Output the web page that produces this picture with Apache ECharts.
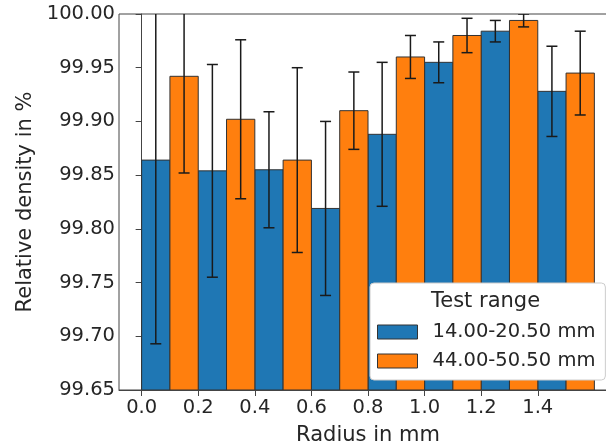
<!DOCTYPE html>
<html lang="en">
<head>
<meta charset="UTF-8">
<title>Relative density</title>
<style>html,body{margin:0;padding:0;background:#fff;}</style>
</head>
<body>
<div id="chart" style="width:606px;height:445px;"></div>
<script src="https://cdn.jsdelivr.net/npm/echarts@6/dist/echarts.min.js"></script>
<script>
// radius positions (left edge of each group)
var radius = [0.0, 0.2, 0.4, 0.6, 0.8, 1.0, 1.2, 1.4];
var seriesNames = ['14.00-20.50 mm', '44.00-50.50 mm'];
var density1 = [99.864, 99.854, 99.855, 99.819, 99.888, 99.955, 99.984, 99.928];
var error1 = [0.171, 0.099, 0.054, 0.081, 0.067, 0.019, 0.010, 0.042];
var density2 = [99.942, 99.902, 99.864, 99.910, 99.960, 99.980, 99.994, 99.945];
var error2 = [0.090, 0.074, 0.086, 0.036, 0.020, 0.016, 0.006, 0.039];
var xTicks = [0.0, 0.2, 0.4, 0.6, 0.8, 1.0, 1.2, 1.4];

var barWidth = 0.1;
var yMin = 99.65, yMax = 100.0;
var font = 'DejaVu Sans';
var textColor = '#262626';
var colors = ['#1f77b4', '#ff7f0e'];

function makeData(vals, errs, offset) {
    return radius.map(function (r, i) {
        return [r + offset, vals[i], errs[i]];
    });
}

// bar + error bar drawn through the axis scales
function renderBar(params, api) {
    var x0 = api.value(0), y = api.value(1), err = api.value(2);
    var p1 = api.coord([x0, y]);
    var p2 = api.coord([x0 + barWidth, yMin]);
    var xc = api.coord([x0 + barWidth / 2, y])[0];
    var top = api.coord([x0, y + err])[1];
    var bot = api.coord([x0, y - err])[1];
    var cap = 5.5;
    var lineStyle = {stroke: '#1a1a1a', lineWidth: 1.5};
    return {
        type: 'group',
        children: [
            {type: 'rect', shape: {x: p1[0], y: p1[1], width: p2[0] - p1[0], height: p2[1] - p1[1]},
                style: {fill: api.visual('color'), stroke: '#333', lineWidth: 1}},
            {type: 'line', shape: {x1: xc, y1: top, x2: xc, y2: bot}, style: lineStyle},
            {type: 'line', shape: {x1: xc - cap, y1: top, x2: xc + cap, y2: top}, style: lineStyle},
            {type: 'line', shape: {x1: xc - cap, y1: bot, x2: xc + cap, y2: bot}, style: lineStyle}
        ]
    };
}

var chart = echarts.init(document.getElementById('chart'));

var option = {
    animation: false,
    textStyle: {fontFamily: font},
    grid: {left: 119, top: 14, width: 498, height: 376, containLabel: false, outerBoundsMode: 'none',
        show: true, borderColor: '#444', borderWidth: 1},
    xAxis: {
        type: 'value', min: -0.08, max: 1.68,
        name: 'Radius in mm', nameLocation: 'middle', nameGap: 35,
        nameTextStyle: {fontFamily: font, fontSize: 21, color: textColor},
        axisLine: {show: true, lineStyle: {color: '#444', width: 1}},
        axisTick: {show: true, length: 6, customValues: xTicks, lineStyle: {color: '#444'}},
        axisLabel: {customValues: xTicks, margin: 8, fontSize: 19.5, color: textColor,
            formatter: function (v) { return v.toFixed(1); }},
        splitLine: {show: false}
    },
    yAxis: {
        type: 'value', min: yMin, max: yMax, interval: 0.05,
        name: 'Relative density in %', nameLocation: 'middle', nameGap: 83,
        nameTextStyle: {fontFamily: font, fontSize: 21, color: textColor},
        axisLine: {show: true, lineStyle: {color: '#444', width: 1}},
        axisTick: {show: true, length: 6, lineStyle: {color: '#444'}},
        axisLabel: {margin: 4, fontSize: 19.5, color: textColor,
            formatter: function (v) { return v.toFixed(2); }},
        splitLine: {show: false}
    },
    legend: {
        orient: 'vertical', left: 370, top: 283,
        padding: [39, 10, 9, 7],
        itemWidth: 40, itemHeight: 14, itemGap: 9,
        icon: 'rect',
        backgroundColor: '#fff', borderColor: '#ccc', borderWidth: 1, borderRadius: 4,
        textStyle: {fontFamily: font, fontSize: 19.5, color: textColor, padding: [0, 0, 0, 10]},
        data: [
            {name: seriesNames[0], itemStyle: {color: colors[0], borderColor: '#333', borderWidth: 1}},
            {name: seriesNames[1], itemStyle: {color: colors[1], borderColor: '#333', borderWidth: 1}}
        ]
    },
    graphic: [{
        type: 'text', left: 431, top: 291, z: 100,
        style: {text: 'Test range', font: '21px "DejaVu Sans"', fill: textColor}
    }],
    series: [
        {name: seriesNames[0], type: 'custom', clip: true, itemStyle: {color: colors[0]},
            renderItem: renderBar, data: makeData(density1, error1, 0)},
        {name: seriesNames[1], type: 'custom', clip: true, itemStyle: {color: colors[1]},
            renderItem: renderBar, data: makeData(density2, error2, barWidth)}
    ]
};

chart.setOption(option);
</script>
</body>
</html>
